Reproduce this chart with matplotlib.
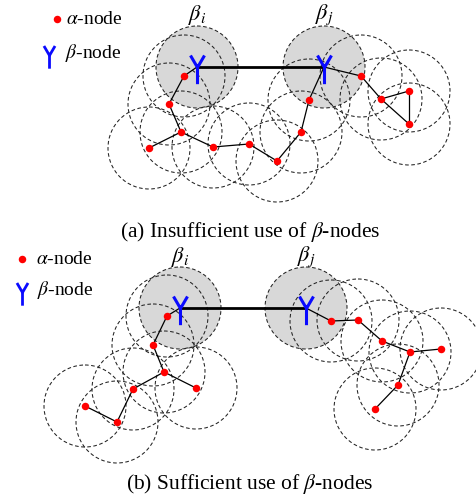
import matplotlib
matplotlib.use("Agg")
import matplotlib.pyplot as plt
from matplotlib.patches import Circle
from matplotlib.path import Path

plt.rcParams.update({
    "font.family": "serif",
    "font.serif": ["Liberation Serif", "DejaVu Serif"],
    "mathtext.fontset": "stix",
})

RADIUS = 41

# panel (a): insufficient use of beta-nodes (pixel coordinates, y down)
a_beta_x = [197, 324]
a_beta_y = [68, 68]
a_alpha_x = [184, 169, 181, 149, 213, 249, 277, 301, 309, 361, 381, 409, 409]
a_alpha_y = [77, 105, 133, 149, 148, 145, 162, 133, 101, 77, 100, 92, 125]
# edges: ("b", i) for beta, ("a", i) for alpha
a_edges = [(("b", 0), ("a", 0)), (("a", 0), ("a", 1)), (("a", 1), ("a", 2)),
           (("a", 2), ("a", 3)), (("a", 2), ("a", 4)), (("a", 4), ("a", 5)),
           (("a", 5), ("a", 6)), (("a", 6), ("a", 7)), (("a", 7), ("a", 8)),
           (("a", 8), ("b", 1)), (("b", 1), ("a", 9)), (("a", 9), ("a", 10)),
           (("a", 10), ("a", 12)), (("a", 10), ("a", 11)), (("a", 11), ("a", 12))]

# panel (b): sufficient use of beta-nodes
b_beta_x = [180, 306]
b_beta_y = [309, 309]
b_alpha_x = [167, 153, 164, 196, 133, 85, 117, 331, 358, 382, 410, 441, 398, 375]
b_alpha_y = [317, 346, 373, 389, 390, 407, 423, 322, 321, 342, 353, 350, 386, 410]
b_edges = [(("b", 0), ("a", 0)), (("a", 0), ("a", 1)), (("a", 1), ("a", 2)),
           (("a", 2), ("a", 3)), (("a", 2), ("a", 4)), (("a", 4), ("a", 6)),
           (("a", 6), ("a", 5)), (("b", 1), ("a", 7)), (("a", 7), ("a", 8)),
           (("a", 8), ("a", 9)), (("a", 9), ("a", 10)), (("a", 10), ("a", 11)),
           (("a", 10), ("a", 12)), (("a", 12), ("a", 13))]

captions = ["(a) Insufficient use of $\\beta$-nodes", "(b) Sufficient use of $\\beta$-nodes"]

Y_MARKER = Path([(0, 0), (0, -1), (0, 0), (-0.42, 0.72), (0, 0), (0.42, 0.72)],
                [Path.MOVETO, Path.LINETO, Path.MOVETO, Path.LINETO,
                 Path.MOVETO, Path.LINETO])

RED = "#ff0000"
BLUE = "#0a0aff"


def draw_panel(ax, bx, by, ax_, ay_, edges, label_y, caption, cap_y, leg):
    for x, y in zip(bx, by):
        ax.add_patch(Circle((x, y), RADIUS, facecolor="#d8d8d8", edgecolor="none", zorder=1))
    for x, y in list(zip(bx, by)) + list(zip(ax_, ay_)):
        ax.add_patch(Circle((x, y), RADIUS, facecolor="none", edgecolor="#222222",
                            lw=0.75, ls=(0, (3.5, 2.4)), zorder=2))

    def pt(node):
        kind, i = node
        return (bx[i], by[i]) if kind == "b" else (ax_[i], ay_[i])

    for n1, n2 in edges:
        (x1, y1), (x2, y2) = pt(n1), pt(n2)
        ax.plot([x1, x2], [y1, y2], color="black", lw=0.9, zorder=3)
    ax.plot(bx, by, color="black", lw=2.0, zorder=3)

    ax.plot(ax_, ay_, "o", color=RED, ms=5.4, mec="none", zorder=4)
    ax.plot(bx, by, ls="none", marker=Y_MARKER, ms=24, mew=2.2, color=BLUE, zorder=5)

    ax.text(bx[0], label_y, "$\\beta_i$", ha="center", va="center", fontsize=16)
    ax.text(bx[1], label_y, "$\\beta_j$", ha="center", va="center", fontsize=16)
    ax.text(250, cap_y, caption, ha="center", va="center", fontsize=15.5)

    (dx, dy, tx1), (yx, yy, tx2) = leg
    ax.plot([dx], [dy], "o", color=RED, ms=5.4, mec="none")
    ax.text(tx1, dy, "$\\alpha$-node", ha="left", va="center", fontsize=14)
    ax.plot([yx], [yy], ls="none", marker=Y_MARKER, ms=19, mew=2.0, color=BLUE)
    ax.text(tx2, yy - 3, "$\\beta$-node", ha="left", va="center", fontsize=14)


fig = plt.figure(figsize=(4.77, 5.02), dpi=100)
ax = fig.add_axes([0, 0, 1, 1])
ax.set_xlim(0, 477)
ax.set_ylim(502, 0)
ax.axis("off")

draw_panel(ax, a_beta_x, a_beta_y, a_alpha_x, a_alpha_y, a_edges, 15, captions[0], 232,
           ((57, 20, 66), (49, 56, 65)))
draw_panel(ax, b_beta_x, b_beta_y, b_alpha_x, b_alpha_y, b_edges, 257, captions[1], 484,
           ((22, 260, 36), (22, 293, 37)))

fig.savefig("out.png", dpi=100)
